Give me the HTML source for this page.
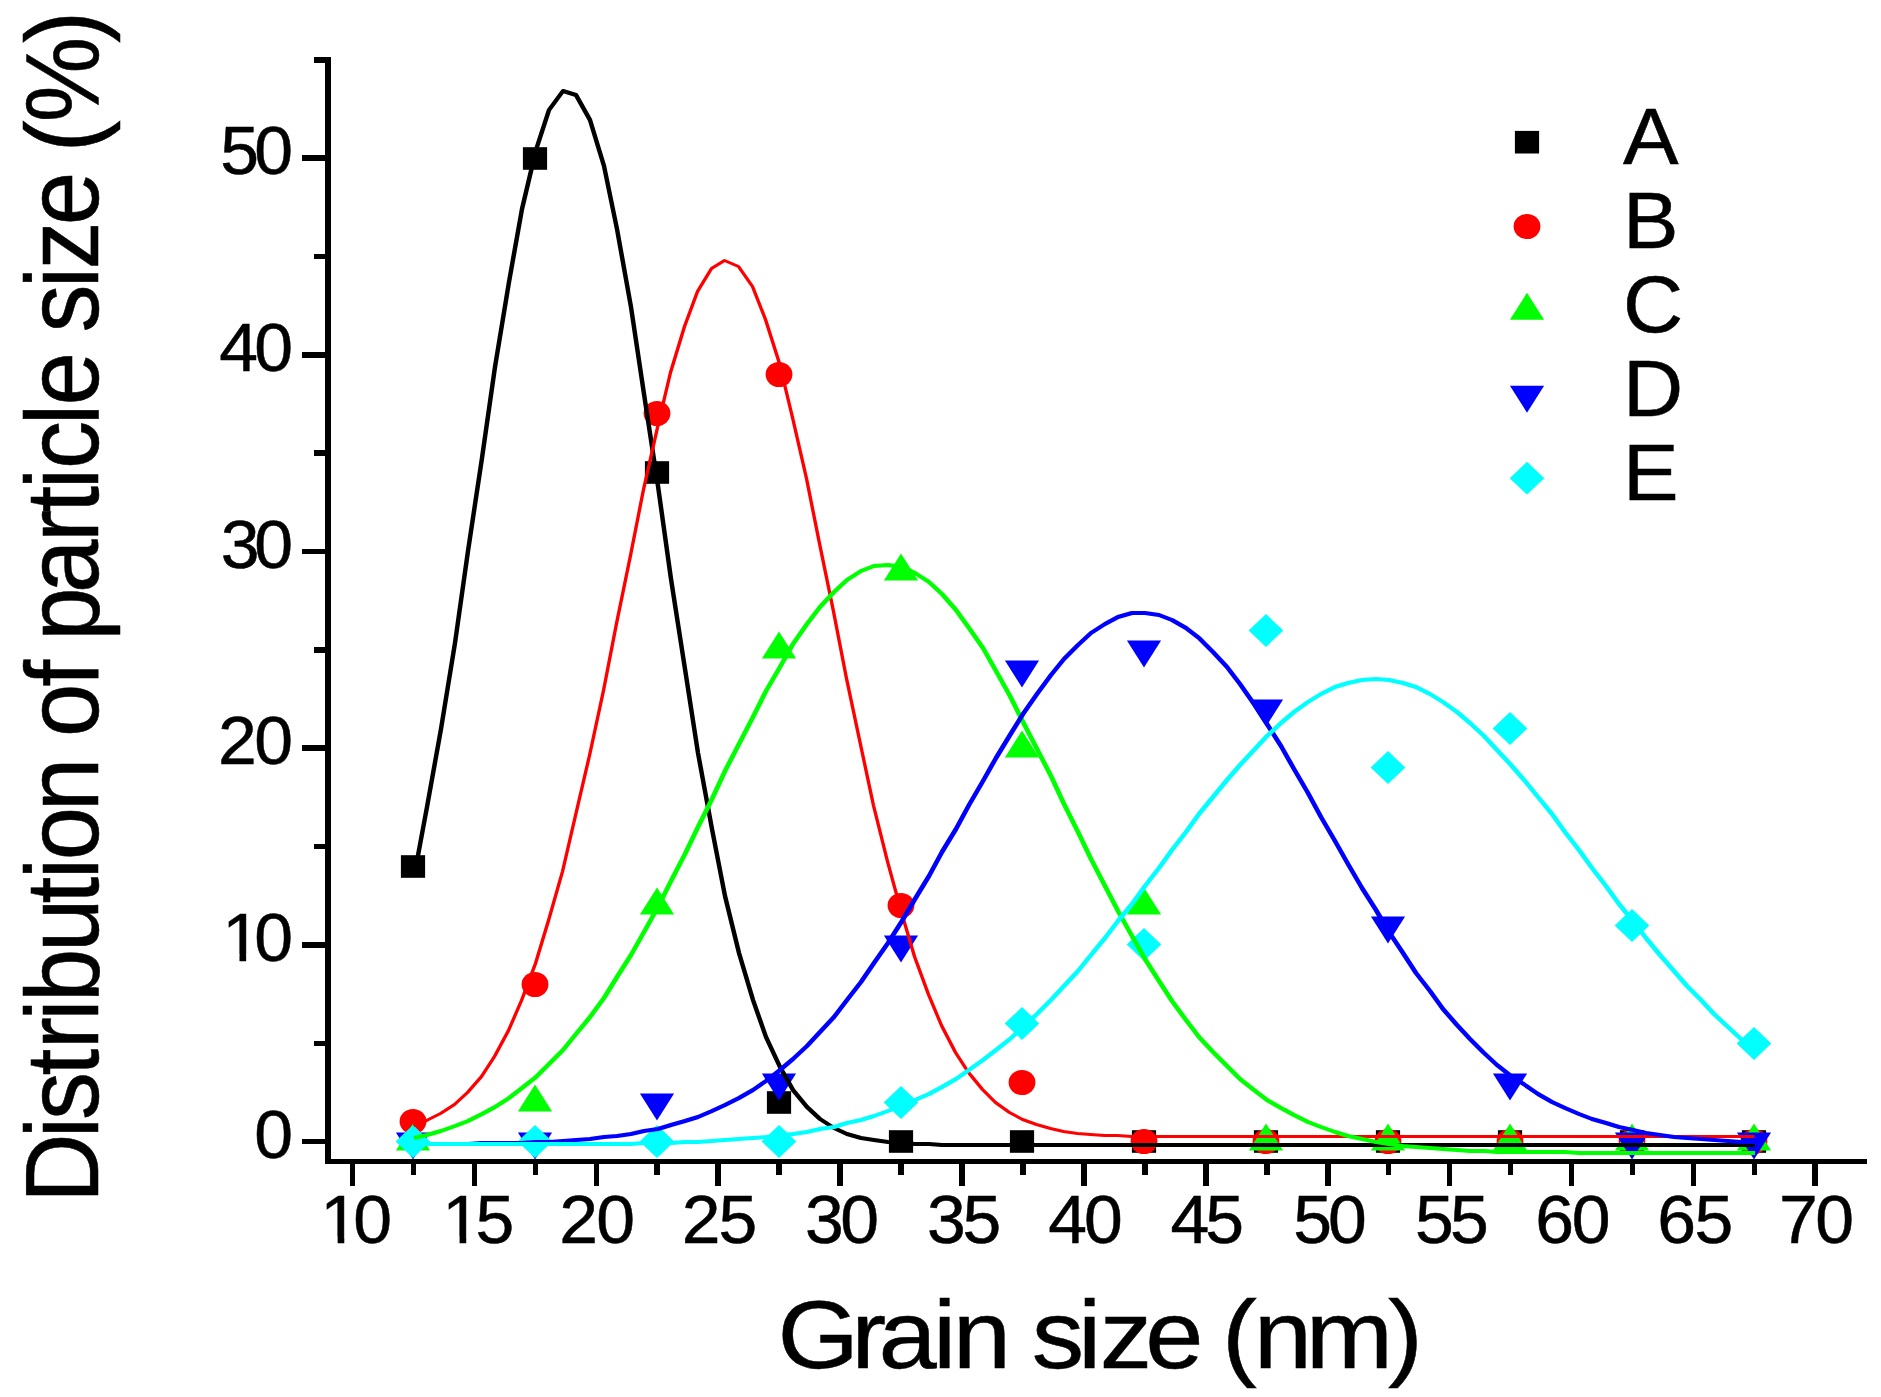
<!DOCTYPE html>
<html lang="en"><head><meta charset="utf-8"><title>Grain size distribution</title>
<style>html,body{margin:0;padding:0;background:#fff}body{width:1881px;height:1397px;overflow:hidden}svg{display:block}text{font-family:"Liberation Sans",Arial,Helvetica,sans-serif;fill:#000;stroke:#000;stroke-width:0.5px}</style></head><body>
<svg width="1881" height="1397" viewBox="0 0 1881 1397">
<rect x="0" y="0" width="1881" height="1397" fill="#ffffff"/>
<g fill="#000" shape-rendering="crispEdges">
<rect x="325" y="57" width="6" height="1107"/>
<rect x="325" y="1159" width="1542" height="5.2"/>
<rect x="349.7" y="1162" width="5.6" height="23.7"/>
<rect x="471.6" y="1162" width="5.6" height="23.7"/>
<rect x="593.5" y="1162" width="5.6" height="23.7"/>
<rect x="715.4" y="1162" width="5.6" height="23.7"/>
<rect x="837.3" y="1162" width="5.6" height="23.7"/>
<rect x="959.2" y="1162" width="5.6" height="23.7"/>
<rect x="1081.1" y="1162" width="5.6" height="23.7"/>
<rect x="1203.0" y="1162" width="5.6" height="23.7"/>
<rect x="1324.9" y="1162" width="5.6" height="23.7"/>
<rect x="1446.8" y="1162" width="5.6" height="23.7"/>
<rect x="1568.7" y="1162" width="5.6" height="23.7"/>
<rect x="1690.5" y="1162" width="5.6" height="23.7"/>
<rect x="1812.4" y="1162" width="5.6" height="23.7"/>
<rect x="410.6" y="1162" width="5.6" height="12.6"/>
<rect x="532.5" y="1162" width="5.6" height="12.6"/>
<rect x="654.4" y="1162" width="5.6" height="12.6"/>
<rect x="776.3" y="1162" width="5.6" height="12.6"/>
<rect x="898.2" y="1162" width="5.6" height="12.6"/>
<rect x="1020.1" y="1162" width="5.6" height="12.6"/>
<rect x="1142.0" y="1162" width="5.6" height="12.6"/>
<rect x="1263.9" y="1162" width="5.6" height="12.6"/>
<rect x="1385.8" y="1162" width="5.6" height="12.6"/>
<rect x="1507.7" y="1162" width="5.6" height="12.6"/>
<rect x="1629.6" y="1162" width="5.6" height="12.6"/>
<rect x="1751.5" y="1162" width="5.6" height="12.6"/>
<rect x="302" y="1138.8" width="25" height="5.4"/>
<rect x="302" y="942.1" width="25" height="5.4"/>
<rect x="302" y="745.4" width="25" height="5.4"/>
<rect x="302" y="548.8" width="25" height="5.4"/>
<rect x="302" y="352.1" width="25" height="5.4"/>
<rect x="302" y="155.4" width="25" height="5.4"/>
<rect x="314" y="1040.5" width="13" height="5.4"/>
<rect x="314" y="843.8" width="13" height="5.4"/>
<rect x="314" y="647.1" width="13" height="5.4"/>
<rect x="314" y="450.4" width="13" height="5.4"/>
<rect x="314" y="253.7" width="13" height="5.4"/>
<rect x="314" y="57.1" width="13" height="5.4"/>
</g>
<g font-size="68">
<text transform="translate(320.35,1243.1) scale(1.025,1)" x="0.00 32.05">10</text>
<text transform="translate(442.30,1243.1) scale(1.025,1)" x="0.00 32.29">15</text>
<text transform="translate(559.29,1243.1) scale(1.025,1)" x="0.00 35.97">20</text>
<text transform="translate(681.69,1243.1) scale(1.025,1)" x="0.00 35.97">25</text>
<text transform="translate(805.05,1243.1) scale(1.025,1)" x="0.00 34.26">30</text>
<text transform="translate(927.05,1243.1) scale(1.025,1)" x="0.00 34.65">35</text>
<text transform="translate(1048.20,1243.1) scale(1.025,1)" x="0.00 34.89">40</text>
<text transform="translate(1170.40,1243.1) scale(1.025,1)" x="0.00 34.11">45</text>
<text transform="translate(1293.21,1243.1) scale(1.025,1)" x="0.00 33.90">50</text>
<text transform="translate(1415.11,1243.1) scale(1.025,1)" x="0.00 34.10">55</text>
<text transform="translate(1535.26,1243.1) scale(1.025,1)" x="0.00 35.61">60</text>
<text transform="translate(1657.36,1243.1) scale(1.025,1)" x="0.00 36.20">65</text>
<text transform="translate(1779.03,1243.1) scale(1.025,1)" x="0.00 35.35">70</text>
<text transform="translate(254.26,1157.7) scale(1.025,1)" x="0.00">0</text>
<text transform="translate(222.20,961.0) scale(1.025,1)" x="0.00 31.22">10</text>
<text transform="translate(217.99,764.3) scale(1.025,1)" x="0.00 35.33">20</text>
<text transform="translate(220.65,567.7) scale(1.025,1)" x="0.00 32.74">30</text>
<text transform="translate(219.20,371.0) scale(1.025,1)" x="0.00 34.15">40</text>
<text transform="translate(220.21,174.3) scale(1.025,1)" x="0.00 33.17">50</text>
</g>
<g fill="#fff"><rect x="323.66" y="1236.52" width="13.97" height="8.58"/><rect x="344.29" y="1236.52" width="12.87" height="8.58"/><rect x="445.61" y="1236.52" width="13.97" height="8.58"/><rect x="466.24" y="1236.52" width="12.87" height="8.58"/><rect x="225.51" y="954.44" width="13.97" height="8.58"/><rect x="246.14" y="954.44" width="12.87" height="8.58"/></g>
<text transform="translate(777.51,1368) scale(1.08,1)" font-size="97" x="0.00 68.37 93.50 143.96 162.25 199.29 235.31 278.22 298.32 340.43 377.46 411.67 440.95 489.24 565.17">Grain size (nm)</text>
<text transform="translate(98,1202.7) rotate(-90) scale(1,1.078)" font-size="96" x="-0.10 64.46 82.60 127.09 153.52 182.01 200.63 250.62 299.09 323.58 342.40 391.58 421.58 465.70 516.26 546.26 562.03 609.62 660.78 689.84 713.36 733.73 777.56 797.30 827.30 870.15 914.48 933.10 977.50 1007.50 1050.37 1080.57 1159.66">Distribution of particle size (%)</text>
<g>
<rect x="400.9" y="855.2" width="24.2" height="22.6" fill="#000000"/>
<rect x="522.9" y="147.2" width="24.2" height="22.6" fill="#000000"/>
<rect x="644.9" y="461.2" width="24.2" height="22.6" fill="#000000"/>
<rect x="766.9" y="1091.2" width="24.2" height="22.6" fill="#000000"/>
<rect x="888.9" y="1130.2" width="24.2" height="22.6" fill="#000000"/>
<rect x="1009.9" y="1130.2" width="24.2" height="22.6" fill="#000000"/>
<rect x="1131.9" y="1130.2" width="24.2" height="22.6" fill="#000000"/>
<rect x="1253.9" y="1130.2" width="24.2" height="22.6" fill="#000000"/>
<rect x="1375.9" y="1130.2" width="24.2" height="22.6" fill="#000000"/>
<rect x="1497.9" y="1130.2" width="24.2" height="22.6" fill="#000000"/>
<rect x="1619.9" y="1130.2" width="24.2" height="22.6" fill="#000000"/>
<rect x="1741.9" y="1130.2" width="24.2" height="22.6" fill="#000000"/>
</g>
<g>
<ellipse cx="413.0" cy="1121.5" rx="13.4" ry="12.6" fill="#ff0000"/>
<ellipse cx="535.0" cy="984.5" rx="13.4" ry="12.6" fill="#ff0000"/>
<ellipse cx="657.0" cy="413.5" rx="13.4" ry="12.6" fill="#ff0000"/>
<ellipse cx="779.0" cy="374.5" rx="13.4" ry="12.6" fill="#ff0000"/>
<ellipse cx="901.0" cy="905.5" rx="13.4" ry="12.6" fill="#ff0000"/>
<ellipse cx="1022.0" cy="1082.5" rx="13.4" ry="12.6" fill="#ff0000"/>
<ellipse cx="1144.0" cy="1141.5" rx="13.4" ry="12.6" fill="#ff0000"/>
<ellipse cx="1266.0" cy="1141.5" rx="13.4" ry="12.6" fill="#ff0000"/>
<ellipse cx="1388.0" cy="1141.5" rx="13.4" ry="12.6" fill="#ff0000"/>
<ellipse cx="1510.0" cy="1141.5" rx="13.4" ry="12.6" fill="#ff0000"/>
<ellipse cx="1632.0" cy="1141.5" rx="13.4" ry="12.6" fill="#ff0000"/>
<ellipse cx="1754.0" cy="1141.5" rx="13.4" ry="12.6" fill="#ff0000"/>
</g>
<g>
<polygon points="395.9,1150.5 430.1,1150.5 413.0,1123.5" fill="#00ff00"/>
<polygon points="517.9,1111.5 552.1,1111.5 535.0,1084.5" fill="#00ff00"/>
<polygon points="639.9,914.5 674.1,914.5 657.0,887.5" fill="#00ff00"/>
<polygon points="761.9,658.5 796.1,658.5 779.0,631.5" fill="#00ff00"/>
<polygon points="883.9,580.5 918.1,580.5 901.0,553.5" fill="#00ff00"/>
<polygon points="1004.9,757.5 1039.1,757.5 1022.0,730.5" fill="#00ff00"/>
<polygon points="1126.9,914.5 1161.1,914.5 1144.0,887.5" fill="#00ff00"/>
<polygon points="1248.9,1150.5 1283.1,1150.5 1266.0,1123.5" fill="#00ff00"/>
<polygon points="1370.9,1150.5 1405.1,1150.5 1388.0,1123.5" fill="#00ff00"/>
<polygon points="1492.9,1150.5 1527.1,1150.5 1510.0,1123.5" fill="#00ff00"/>
<polygon points="1614.9,1150.5 1649.1,1150.5 1632.0,1123.5" fill="#00ff00"/>
<polygon points="1736.9,1150.5 1771.1,1150.5 1754.0,1123.5" fill="#00ff00"/>
</g>
<g>
<polygon points="395.9,1132.5 430.1,1132.5 413.0,1159.5" fill="#0000ff"/>
<polygon points="517.9,1132.5 552.1,1132.5 535.0,1159.5" fill="#0000ff"/>
<polygon points="639.9,1093.5 674.1,1093.5 657.0,1120.5" fill="#0000ff"/>
<polygon points="761.9,1073.5 796.1,1073.5 779.0,1100.5" fill="#0000ff"/>
<polygon points="883.9,935.5 918.1,935.5 901.0,962.5" fill="#0000ff"/>
<polygon points="1004.9,660.5 1039.1,660.5 1022.0,687.5" fill="#0000ff"/>
<polygon points="1126.9,640.5 1161.1,640.5 1144.0,667.5" fill="#0000ff"/>
<polygon points="1248.9,699.5 1283.1,699.5 1266.0,726.5" fill="#0000ff"/>
<polygon points="1370.9,916.5 1405.1,916.5 1388.0,943.5" fill="#0000ff"/>
<polygon points="1492.9,1073.5 1527.1,1073.5 1510.0,1100.5" fill="#0000ff"/>
<polygon points="1614.9,1132.5 1649.1,1132.5 1632.0,1159.5" fill="#0000ff"/>
<polygon points="1736.9,1132.5 1771.1,1132.5 1754.0,1159.5" fill="#0000ff"/>
</g>
<g>
<polygon points="395.7,1141.5 413.0,1125.1 430.3,1141.5 413.0,1157.9" fill="#00ffff"/>
<polygon points="517.7,1141.5 535.0,1125.1 552.3,1141.5 535.0,1157.9" fill="#00ffff"/>
<polygon points="639.7,1141.5 657.0,1125.1 674.3,1141.5 657.0,1157.9" fill="#00ffff"/>
<polygon points="761.7,1141.5 779.0,1125.1 796.3,1141.5 779.0,1157.9" fill="#00ffff"/>
<polygon points="883.7,1102.5 901.0,1086.1 918.3,1102.5 901.0,1118.9" fill="#00ffff"/>
<polygon points="1004.7,1023.5 1022.0,1007.1 1039.3,1023.5 1022.0,1039.9" fill="#00ffff"/>
<polygon points="1126.7,944.5 1144.0,928.1 1161.3,944.5 1144.0,960.9" fill="#00ffff"/>
<polygon points="1248.7,630.5 1266.0,614.1 1283.3,630.5 1266.0,646.9" fill="#00ffff"/>
<polygon points="1370.7,767.5 1388.0,751.1 1405.3,767.5 1388.0,783.9" fill="#00ffff"/>
<polygon points="1492.7,728.5 1510.0,712.1 1527.3,728.5 1510.0,744.9" fill="#00ffff"/>
<polygon points="1614.7,925.5 1632.0,909.1 1649.3,925.5 1632.0,941.9" fill="#00ffff"/>
<polygon points="1736.7,1043.5 1754.0,1027.1 1771.3,1043.5 1754.0,1059.9" fill="#00ffff"/>
</g>
<polyline transform="scale(1.12,1)" points="369.64,877.0 381.25,807.0 393.75,729.0 406.25,643.0 417.86,551.0 430.36,458.0 441.96,367.0 454.46,282.0 466.07,209.0 478.57,150.0 490.18,110.0 502.68,91.0 514.29,95.0 526.79,120.0 539.29,166.0 550.89,229.0 563.39,307.0 575.00,394.0 587.50,486.0 599.11,579.0 611.61,669.0 623.21,753.0 635.71,829.0 647.32,896.0 659.82,953.0 672.32,1000.0 683.93,1037.0 696.43,1067.0 708.04,1090.0 720.54,1107.0 732.14,1119.0 744.64,1128.0 756.25,1134.0 768.75,1138.0 780.36,1140.0 792.86,1142.0 805.36,1143.0 816.96,1144.0 829.46,1144.0 841.07,1145.0 853.57,1145.0 865.18,1145.0 877.68,1145.0 889.29,1145.0 901.79,1145.0 913.39,1145.0 925.89,1145.0 938.39,1145.0 950.00,1145.0 962.50,1145.0 974.11,1145.0 986.61,1145.0 998.21,1145.0 1010.71,1145.0 1022.32,1145.0 1034.82,1145.0 1046.43,1145.0 1058.93,1145.0 1070.54,1145.0 1083.04,1145.0 1095.54,1145.0 1107.14,1145.0 1119.64,1145.0 1131.25,1145.0 1143.75,1145.0 1155.36,1145.0 1167.86,1145.0 1179.46,1145.0 1191.96,1145.0 1203.57,1145.0 1216.07,1145.0 1228.57,1145.0 1240.18,1145.0 1252.68,1145.0 1264.29,1145.0 1276.79,1145.0 1288.39,1145.0 1300.89,1145.0 1312.50,1145.0 1325.00,1145.0 1336.61,1145.0 1349.11,1145.0 1361.61,1145.0 1373.21,1145.0 1385.71,1145.0 1397.32,1145.0 1409.82,1145.0 1421.43,1145.0 1433.93,1145.0 1445.54,1145.0 1458.04,1145.0 1469.64,1145.0 1482.14,1145.0 1494.64,1145.0 1506.25,1145.0 1518.75,1145.0 1530.36,1145.0 1542.86,1145.0 1554.46,1145.0 1566.96,1145.0" fill="none" stroke="#000000" stroke-width="4.0" stroke-linejoin="round"/>
<polyline transform="scale(1.13,1)" points="365.93,1125.5 377.43,1120.5 389.82,1113.5 402.21,1104.5 413.72,1092.5 426.11,1076.5 437.61,1056.5 450.00,1030.5 461.50,1000.5 473.89,963.5 485.40,920.5 497.79,871.5 509.29,815.5 521.68,755.5 534.07,690.5 545.58,623.5 557.96,555.5 569.47,489.5 581.86,427.5 593.36,372.5 605.75,326.5 617.26,291.5 629.65,268.5 641.15,260.5 653.54,266.5 665.93,286.5 677.43,319.5 689.82,363.5 701.33,417.5 713.72,478.5 725.22,543.5 737.61,611.5 749.12,678.5 761.50,744.5 773.01,805.5 785.40,861.5 797.79,912.5 809.29,956.5 821.68,994.5 833.19,1025.5 845.58,1052.5 857.08,1072.5 869.47,1089.5 880.97,1102.5 893.36,1112.5 904.87,1119.5 917.26,1124.5 929.65,1128.5 941.15,1131.5 953.54,1133.5 965.04,1134.5 977.43,1135.5 988.94,1135.5 1001.33,1136.5 1012.83,1136.5 1025.22,1136.5 1036.73,1136.5 1049.12,1136.5 1060.62,1136.5 1073.01,1136.5 1085.40,1136.5 1096.90,1136.5 1109.29,1136.5 1120.80,1136.5 1133.19,1136.5 1144.69,1136.5 1157.08,1136.5 1168.58,1136.5 1180.97,1136.5 1192.48,1136.5 1204.87,1136.5 1217.26,1136.5 1228.76,1136.5 1241.15,1136.5 1252.65,1136.5 1265.04,1136.5 1276.55,1136.5 1288.94,1136.5 1300.44,1136.5 1312.83,1136.5 1324.34,1136.5 1336.73,1136.5 1349.12,1136.5 1360.62,1136.5 1373.01,1136.5 1384.51,1136.5 1396.90,1136.5 1408.41,1136.5 1420.80,1136.5 1432.30,1136.5 1444.69,1136.5 1456.19,1136.5 1468.58,1136.5 1480.97,1136.5 1492.48,1136.5 1504.87,1136.5 1516.37,1136.5 1528.76,1136.5 1540.27,1136.5 1552.65,1136.5" fill="none" stroke="#ff0000" stroke-width="3.0" stroke-linejoin="round"/>
<polyline transform="scale(1.2,1)" points="345.00,1138.0 355.83,1135.0 367.50,1131.0 379.17,1126.0 390.00,1121.0 401.67,1114.0 412.50,1107.0 424.17,1098.0 435.00,1088.0 446.67,1077.0 457.50,1064.0 469.17,1050.0 480.00,1034.0 491.67,1017.0 503.33,998.0 514.17,977.0 525.83,955.0 536.67,932.0 548.33,907.0 559.17,881.0 570.83,854.0 581.67,827.0 593.33,799.0 604.17,771.0 615.83,744.0 627.50,717.0 638.33,691.0 650.00,667.0 660.83,644.0 672.50,624.0 683.33,607.0 695.00,592.0 705.83,580.0 717.50,571.0 728.33,566.0 740.00,565.0 751.67,567.0 762.50,573.0 774.17,582.0 785.00,594.0 796.67,610.0 807.50,628.0 819.17,648.0 830.00,671.0 841.67,696.0 852.50,722.0 864.17,749.0 875.83,776.0 886.67,804.0 898.33,832.0 909.17,859.0 920.83,886.0 931.67,911.0 943.33,936.0 954.17,959.0 965.83,981.0 976.67,1001.0 988.33,1020.0 999.17,1037.0 1010.83,1052.0 1022.50,1066.0 1033.33,1079.0 1045.00,1090.0 1055.83,1100.0 1067.50,1108.0 1078.33,1115.0 1090.00,1122.0 1100.83,1127.0 1112.50,1132.0 1123.33,1136.0 1135.00,1139.0 1146.67,1142.0 1157.50,1144.0 1169.17,1146.0 1180.00,1147.0 1191.67,1148.0 1202.50,1149.0 1214.17,1150.0 1225.00,1151.0 1236.67,1151.0 1247.50,1152.0 1259.17,1152.0 1270.83,1152.0 1281.67,1152.0 1293.33,1152.0 1304.17,1152.0 1315.83,1153.0 1326.67,1153.0 1338.33,1153.0 1349.17,1153.0 1360.83,1153.0 1371.67,1153.0 1383.33,1153.0 1395.00,1153.0 1405.83,1153.0 1417.50,1153.0 1428.33,1153.0 1440.00,1153.0 1450.83,1153.0 1462.50,1153.0" fill="none" stroke="#00ff00" stroke-width="4.0" stroke-linejoin="round"/>
<polyline transform="scale(1.2,1)" points="345.00,1144.0 355.83,1144.0 367.50,1144.0 379.17,1144.0 390.00,1144.0 401.67,1143.0 412.50,1143.0 424.17,1143.0 435.00,1143.0 446.67,1142.0 457.50,1142.0 469.17,1141.0 480.00,1140.0 491.67,1139.0 503.33,1137.0 514.17,1136.0 525.83,1134.0 536.67,1131.0 548.33,1129.0 559.17,1125.0 570.83,1121.0 581.67,1117.0 593.33,1111.0 604.17,1105.0 615.83,1098.0 627.50,1090.0 638.33,1081.0 650.00,1070.0 660.83,1059.0 672.50,1046.0 683.33,1032.0 695.00,1017.0 705.83,1000.0 717.50,982.0 728.33,963.0 740.00,943.0 751.67,921.0 762.50,899.0 774.17,876.0 785.00,852.0 796.67,829.0 807.50,805.0 819.17,781.0 830.00,758.0 841.67,735.0 852.50,714.0 864.17,694.0 875.83,675.0 886.67,659.0 898.33,645.0 909.17,633.0 920.83,624.0 931.67,617.0 943.33,613.0 954.17,613.0 965.83,615.0 976.67,620.0 988.33,628.0 999.17,638.0 1010.83,652.0 1022.50,667.0 1033.33,684.0 1045.00,704.0 1055.83,724.0 1067.50,746.0 1078.33,769.0 1090.00,793.0 1100.83,817.0 1112.50,841.0 1123.33,864.0 1135.00,888.0 1146.67,910.0 1157.50,932.0 1169.17,953.0 1180.00,973.0 1191.67,991.0 1202.50,1009.0 1214.17,1025.0 1225.00,1039.0 1236.67,1053.0 1247.50,1065.0 1259.17,1076.0 1270.83,1085.0 1281.67,1094.0 1293.33,1102.0 1304.17,1108.0 1315.83,1114.0 1326.67,1119.0 1338.33,1123.0 1349.17,1127.0 1360.83,1130.0 1371.67,1133.0 1383.33,1135.0 1395.00,1137.0 1405.83,1138.0 1417.50,1139.0 1428.33,1140.0 1440.00,1141.0 1450.83,1142.0 1462.50,1142.0" fill="none" stroke="#0000ff" stroke-width="4.0" stroke-linejoin="round"/>
<polyline transform="scale(1.2,1)" points="345.00,1144.0 355.83,1144.0 367.50,1144.0 379.17,1144.0 390.00,1144.0 401.67,1144.0 412.50,1144.0 424.17,1144.0 435.00,1144.0 446.67,1144.0 457.50,1144.0 469.17,1144.0 480.00,1144.0 491.67,1144.0 503.33,1144.0 514.17,1144.0 525.83,1144.0 536.67,1143.0 548.33,1143.0 559.17,1143.0 570.83,1142.0 581.67,1142.0 593.33,1141.0 604.17,1140.0 615.83,1139.0 627.50,1138.0 638.33,1137.0 650.00,1135.0 660.83,1134.0 672.50,1132.0 683.33,1129.0 695.00,1127.0 705.83,1123.0 717.50,1120.0 728.33,1116.0 740.00,1111.0 751.67,1106.0 762.50,1100.0 774.17,1094.0 785.00,1087.0 796.67,1079.0 807.50,1070.0 819.17,1060.0 830.00,1050.0 841.67,1039.0 852.50,1027.0 864.17,1014.0 875.83,1000.0 886.67,986.0 898.33,971.0 909.17,955.0 920.83,938.0 931.67,921.0 943.33,904.0 954.17,886.0 965.83,868.0 976.67,850.0 988.33,832.0 999.17,814.0 1010.83,797.0 1022.50,780.0 1033.33,765.0 1045.00,750.0 1055.83,736.0 1067.50,723.0 1078.33,712.0 1090.00,702.0 1100.83,694.0 1112.50,687.0 1123.33,683.0 1135.00,680.0 1146.67,679.0 1157.50,680.0 1169.17,683.0 1180.00,687.0 1191.67,694.0 1202.50,702.0 1214.17,712.0 1225.00,723.0 1236.67,736.0 1247.50,750.0 1259.17,765.0 1270.83,781.0 1281.67,797.0 1293.33,814.0 1304.17,832.0 1315.83,850.0 1326.67,868.0 1338.33,886.0 1349.17,904.0 1360.83,921.0 1371.67,938.0 1383.33,955.0 1395.00,971.0 1405.83,986.0 1417.50,1000.0 1428.33,1014.0 1440.00,1027.0 1450.83,1039.0 1462.50,1050.0" fill="none" stroke="#00ffff" stroke-width="4.0" stroke-linejoin="round"/>
<rect x="1514.9" y="130.9" width="24.2" height="22.6" fill="#000000"/>
<text transform="translate(1623,163.5) scale(1.055,1)" font-size="79">A</text>
<ellipse cx="1527.0" cy="226.5" rx="13.4" ry="12.6" fill="#ff0000"/>
<text transform="translate(1623,247.5) scale(1.055,1)" font-size="79">B</text>
<polygon points="1509.9,319.8 1544.1,319.8 1527.0,292.8" fill="#00ff00"/>
<text transform="translate(1623,331.5) scale(1.055,1)" font-size="79">C</text>
<polygon points="1509.9,385.7 1544.1,385.7 1527.0,412.7" fill="#0000ff"/>
<text transform="translate(1623,415.5) scale(1.055,1)" font-size="79">D</text>
<polygon points="1509.7,478.2 1527.0,461.8 1544.3,478.2 1527.0,494.6" fill="#00ffff"/>
<text transform="translate(1623,499.5) scale(1.055,1)" font-size="79">E</text>
</svg></body></html>
